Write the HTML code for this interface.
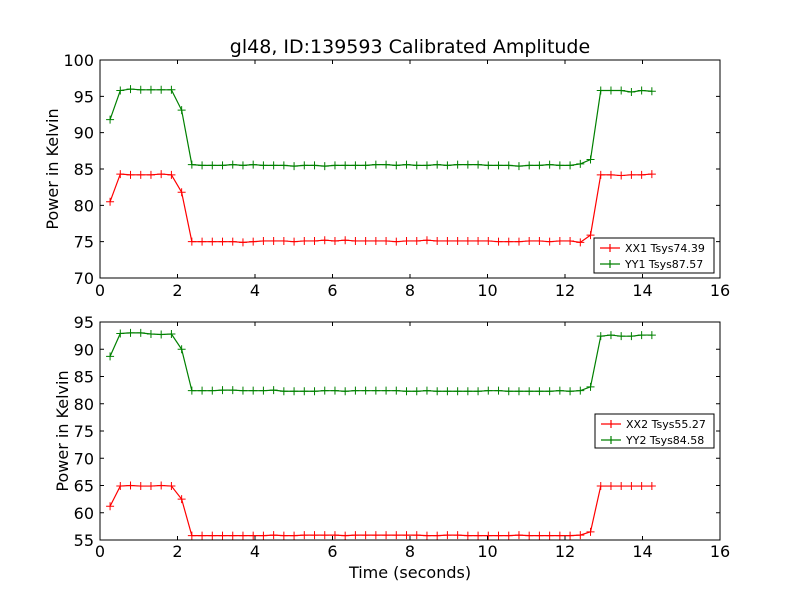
<!DOCTYPE html>
<html><head><meta charset="utf-8"><style>
body{margin:0;background:#fff}
svg{display:block;font-family:"DejaVu Sans","Liberation Sans",sans-serif}
</style></head><body>
<svg id="c" width="800" height="600"></svg>
<script>
const tStart = 0.26, tStep = 0.2638, nPts = 54;
const xx1 = [80.5,84.3,84.2,84.2,84.2,84.3,84.2,81.8,
75.0,75.0,75.0,75.0,75.0,74.9,75.0,75.1,75.1,75.1,
75.0,75.1,75.1,75.2,75.1,75.2,75.1,75.1,75.1,75.1,
75.0,75.1,75.1,75.2,75.1,75.1,75.1,75.1,75.1,75.1,
75.0,75.0,75.0,75.1,75.1,75.0,75.1,75.1,74.9,
75.9,84.2,84.2,84.1,84.2,84.2,84.3];
const yy1 = [91.8,95.8,96.0,95.9,95.9,95.9,95.9,93.1,
85.6,85.5,85.5,85.5,85.6,85.5,85.6,85.5,85.5,85.5,
85.4,85.5,85.5,85.4,85.5,85.5,85.5,85.5,85.6,85.6,
85.5,85.6,85.5,85.5,85.6,85.5,85.6,85.6,85.6,85.5,
85.5,85.5,85.4,85.5,85.5,85.6,85.5,85.5,85.7,
86.3,95.8,95.8,95.8,95.6,95.8,95.7];
const xx2 = [61.2,64.9,65.0,64.9,64.9,65.0,64.9,62.5,
55.8,55.8,55.8,55.8,55.8,55.8,55.8,55.8,55.9,55.8,
55.8,55.9,55.9,55.9,55.9,55.8,55.9,55.9,55.9,55.9,
55.9,55.9,55.9,55.8,55.8,55.9,55.9,55.8,55.8,55.8,
55.8,55.8,55.9,55.8,55.8,55.8,55.8,55.8,55.9,
56.5,64.9,64.9,64.9,64.9,64.9,64.9];
const yy2 = [88.7,92.9,93.0,93.0,92.8,92.7,92.8,90.0,
82.4,82.4,82.4,82.5,82.5,82.4,82.4,82.4,82.5,82.3,
82.3,82.3,82.3,82.4,82.4,82.3,82.4,82.4,82.4,82.4,
82.4,82.3,82.3,82.4,82.3,82.3,82.3,82.3,82.3,82.4,
82.4,82.3,82.3,82.3,82.3,82.3,82.4,82.3,82.4,
83.1,92.4,92.6,92.4,92.4,92.6,92.6];
const xTicks = [0,2,4,6,8,10,12,14,16];
const yTicksTop = [70,75,80,85,90,95,100];
const yTicksBot = [55,60,65,70,75,80,85,90,95];
const legendTop = ["XX1 Tsys74.39","YY1 Tsys87.57"];
const legendBot = ["XX2 Tsys55.27","YY2 Tsys84.58"];

const NS="http://www.w3.org/2000/svg";
const svg=document.getElementById('c');
function mk(tag,attrs,parent){const e=document.createElementNS(NS,tag);for(const k in attrs)e.setAttribute(k,attrs[k]);(parent||svg).appendChild(e);return e;}

function panel(name,box,ymin,ymax,yTicks,series,colors,labels,leg,lblOff){
  const g=mk('g',{});
  
  
  const X=v=>box.x0+(v-0)/(16-0)*(box.x1-box.x0);
  const Y=v=>box.y1-(v-ymin)/(ymax-ymin)*(box.y1-box.y0);
  series.forEach((s,si)=>{
    const pts=s.map((v,i)=>[X(tStart+tStep*i),Y(v)]);
    const pl=mk('polyline',{points:pts.map(p=>p.join(',')).join(' '),fill:'none',stroke:colors[si],'stroke-width':1.2},g);
    
    
    pts.forEach(p=>{
      const m=mk('path',{d:`M${p[0]-4},${p[1]}h8M${p[0]},${p[1]-4}v8`,stroke:colors[si],'stroke-width':1},g);
      
      
    });
  });
  const fr=mk('rect',{x:box.x0,y:box.y0,width:box.x1-box.x0,height:box.y1-box.y0,fill:'none',stroke:'#000','stroke-width':1},g);
  
  
  xTicks.forEach(t=>{
    const x=X(t);
    mk('path',{d:`M${x},${box.y1}v-4M${x},${box.y0}v4`,stroke:'#000'},g);
    const tx=mk('text',{x:x,y:box.y1+lblOff,'font-size':16,'text-anchor':'middle'},g);
    tx.textContent=t;
    
    
  });
  yTicks.forEach(t=>{
    const y=Y(t);
    mk('path',{d:`M${box.x0},${y}h4M${box.x1},${y}h-4`,stroke:'#000'},g);
    const tx=mk('text',{x:box.x0-6,y:y+6,'font-size':16,'text-anchor':'end'},g);
    tx.textContent=t;
    
    
  });
  const yl=mk('text',{x:0,y:0,'font-size':16,'text-anchor':'middle',transform:`translate(${box.ylx},${(box.y0+box.y1)/2}) rotate(-90)`},g);
  yl.textContent='Power in Kelvin';
  
  
  const lg=mk('g',{},g);
  
  
  mk('rect',{x:leg.x,y:leg.y,width:leg.w,height:leg.h,fill:'#fff',stroke:'#000','stroke-width':1},lg);
  labels.forEach((l,i)=>{
    const y=leg.y+10+i*16;
    const e=mk('g',{},lg);
    
    
    mk('path',{d:`M${leg.x+6},${y}h20M${leg.x+16},${y-4}v8`,stroke:colors[i],'stroke-width':1.2},e);
    const tx=mk('text',{x:leg.x+31,y:y+4,'font-size':11},e);
    tx.textContent=l;
  });
}
panel('top-panel',{x0:100,x1:720,y0:60,y1:278,ylx:58},70,100,yTicksTop,[xx1,yy1],['#ff0000','#008000'],legendTop,{x:594,y:238,w:120,h:35},18);
panel('bottom-panel',{x0:100,x1:720,y0:322,y1:540,ylx:68},55,95,yTicksBot,[xx2,yy2],['#ff0000','#008000'],legendBot,{x:595,y:414,w:119,h:34},17);
const ti=mk('text',{x:410,y:53,'font-size':19,'text-anchor':'middle'});
ti.textContent='gl48, ID:139593 Calibrated Amplitude';


const xl=mk('text',{x:410,y:578,'font-size':16,'text-anchor':'middle'});
xl.textContent='Time (seconds)';


</script>
</body></html>
